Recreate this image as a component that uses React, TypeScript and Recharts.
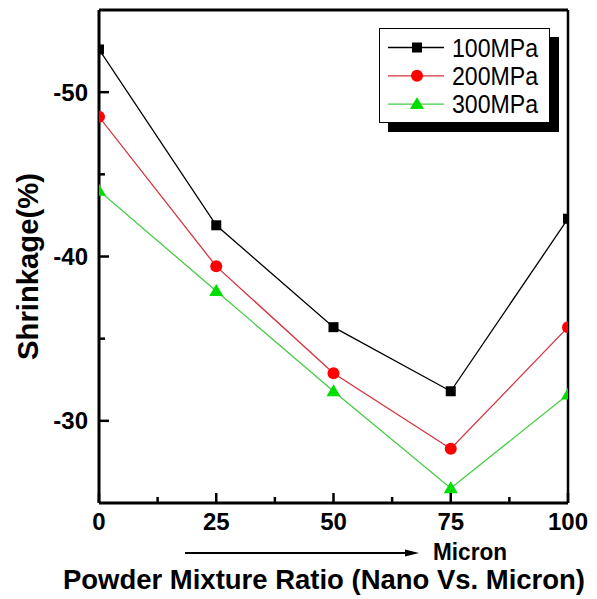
import { Legend, Line, LineChart, ReferenceLine, XAxis, YAxis } from "recharts";

const ratios = [0, 25, 50, 75, 100];
const shrink100 = [-52.6, -41.9, -35.7, -31.8, -42.3];
const shrink200 = [-48.5, -39.4, -32.9, -28.3, -35.7];
const shrink300 = [-44.0, -37.9, -31.8, -25.9, -31.6];

const xTicks = [0, 12.5, 25, 37.5, 50, 62.5, 75, 87.5, 100];
const yTicks = [-50, -45, -40, -35, -30];

const FONT = '"Liberation Sans", Arial, Helvetica, sans-serif';

const series = [
  { key: "p100", name: "100MPa", line: "#000000", fill: "#000000", shape: "square" },
  { key: "p200", name: "200MPa", line: "#d4323e", fill: "#ff0000", shape: "circle" },
  { key: "p300", name: "300MPa", line: "#44cc44", fill: "#00dd00", shape: "triangle" },
];

const data = ratios.map((r, i) => ({
  ratio: r,
  p100: shrink100[i],
  p200: shrink200[i],
  p300: shrink300[i],
}));

const Marker = ({ cx, cy, shape, fill }: any) => {
  if (cx == null || cy == null) return null;
  if (shape === "square") {
    return <rect x={cx - 5} y={cy - 5} width={10} height={10} fill={fill} />;
  }
  if (shape === "circle") {
    return <circle cx={cx} cy={cy} r={6} fill={fill} />;
  }
  return (
    <polygon
      points={`${cx},${cy - 7} ${cx + 7},${cy + 5} ${cx - 7},${cy + 5}`}
      fill={fill}
    />
  );
};

// y ticks point inward, labels only on the 10s
const YTick = (props: any) => {
  const { x, y, payload } = props;
  const major = payload.value % 10 === 0;
  const ax = x + 11;
  return (
    <g>
      <line x1={ax} x2={ax + (major ? 10 : 6)} y1={y} y2={y} stroke="#000" strokeWidth={2.5} />
      {major && (
        <text x={x} y={y} dy={8.5} textAnchor="end" fontFamily={FONT} fontWeight="bold" fontSize={24} fill="#000">
          {payload.value}
        </text>
      )}
    </g>
  );
};

const XTick = (props: any) => {
  const { x, y, payload } = props;
  const major = payload.value % 25 === 0;
  return (
    <g>
      <line x1={x} x2={x} y1={y} y2={y - (major ? 10 : 6)} stroke="#000" strokeWidth={2.5} />
      {major && (
        <text x={x} y={y} dy={27} textAnchor="middle" fontFamily={FONT} fontWeight="bold" fontSize={24} fill="#000">
          {payload.value}
        </text>
      )}
    </g>
  );
};

const YLabel = ({ viewBox }: any) => {
  const cx = viewBox.x + 27;
  const cy = viewBox.y + viewBox.height / 2 + 10;
  return (
    <text
      x={cx}
      y={cy}
      transform={`rotate(-90, ${cx}, ${cy})`}
      textAnchor="middle"
      dominantBaseline="central"
      fontFamily={FONT}
      fontWeight="bold"
      fontSize={30}
      textLength={187}
      lengthAdjust="spacingAndGlyphs"
      fill="#000"
    >
      Shrinkage(%)
    </text>
  );
};

const XLabel = ({ viewBox }: any) => {
  const { x, y } = viewBox;
  const ay = y + 50;
  return (
    <g>
      <line x1={x + 86} x2={x + 310} y1={ay} y2={ay} stroke="#000" strokeWidth={2} />
      <polygon points={`${x + 320},${ay} ${x + 306},${ay - 3.5} ${x + 306},${ay + 3.5}`} fill="#000" />
      <text
        x={x + 334}
        y={y + 57}
        fontFamily={FONT}
        fontWeight="bold"
        fontSize={23}
        textLength={74}
        lengthAdjust="spacingAndGlyphs"
        fill="#000"
      >
        Micron
      </text>
      <text
        x={x - 36}
        y={y + 86}
        fontFamily={FONT}
        fontWeight="bold"
        fontSize={28}
        textLength={522}
        lengthAdjust="spacingAndGlyphs"
        fill="#000"
      >
        Powder Mixture Ratio (Nano Vs. Micron)
      </text>
    </g>
  );
};

const LegendBox = () => (
  <svg width={182} height={108} style={{ display: "block" }}>
    <rect x={9} y={9} width={171} height={95} fill="#000" />
    <rect x={0.5} y={0.5} width={170} height={94} fill="#fff" stroke="#000" strokeWidth={1} />
    {series.map((s, i) => {
      const cy = 19.5 + i * 28.3;
      return (
        <g key={s.key}>
          <line x1={9} x2={65} y1={cy} y2={cy} stroke={s.line} strokeWidth={1.3} />
          <Marker cx={38} cy={cy} shape={s.shape} fill={s.fill} />
          <text
            x={73}
            y={cy + 9}
            fontFamily={FONT}
            fontSize={25}
            textLength={86}
            lengthAdjust="spacingAndGlyphs"
            fill="#000"
          >
            {s.name}
          </text>
        </g>
      );
    })}
  </svg>
);

export default function App() {
  return (
    <div style={{ position: "absolute", left: 0, top: 0, background: "#fff" }}>
      <LineChart width={597} height={599} data={data} margin={{ top: 10, right: 29, left: 0, bottom: 0 }}>
        <XAxis
          dataKey="ratio"
          type="number"
          domain={[0, 100]}
          ticks={xTicks}
          interval={0}
          allowDataOverflow
          height={96}
          tickSize={0}
          tickMargin={0}
          tickLine={false}
          tick={<XTick />}
          axisLine={{ stroke: "#000", strokeWidth: 3 }}
          label={<XLabel />}
        />
        <YAxis
          type="number"
          domain={[-55, -25]}
          reversed
          ticks={yTicks}
          interval={0}
          allowDataOverflow
          width={99}
          tickSize={0}
          tickMargin={11}
          tickLine={false}
          tick={<YTick />}
          axisLine={{ stroke: "#000", strokeWidth: 3 }}
          label={<YLabel />}
        />
        <ReferenceLine y={-55} stroke="#000" strokeWidth={3} />
        <ReferenceLine x={100} stroke="#000" strokeWidth={2.5} />
        <Legend
          layout="vertical"
          align="center"
          verticalAlign="middle"
          wrapperStyle={{ left: 379, top: 28, width: 182 }}
          content={() => <LegendBox />}
        />
        {series.map((s) => (
          <Line
            key={s.key}
            type="linear"
            dataKey={s.key}
            name={s.name}
            stroke={s.line}
            strokeWidth={1.3}
            dot={(p: any) => <Marker key={`${s.key}-${p.index}`} cx={p.cx} cy={p.cy} shape={s.shape} fill={s.fill} />}
            activeDot={false}
            isAnimationActive={false}
          />
        ))}
      </LineChart>
    </div>
  );
}
